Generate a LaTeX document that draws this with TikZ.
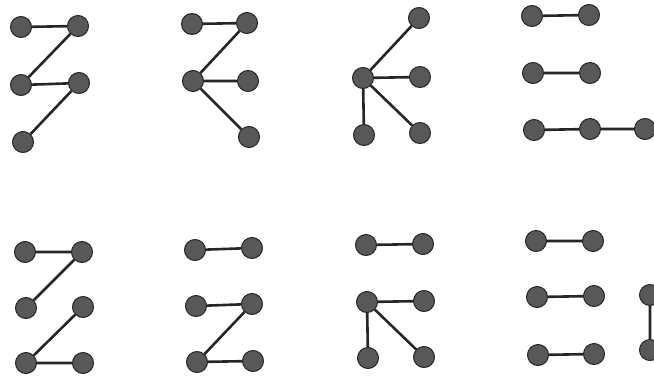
\documentclass[tikz,border=0pt]{standalone}
\usepackage{tikz}
\usetikzlibrary{positioning}

\definecolor{vfill}{HTML}{585858}
\definecolor{vline}{HTML}{262626}

\begin{document}
\begin{tikzpicture}[
x=1pt,y=-1pt,
vtx/.style={
draw=vline,
line width=1pt,
fill=vfill,
circle,
inner sep=0pt,
minimum size=21pt},
edge/.style={
draw=vline,
line width=2.6pt}
]
\useasboundingbox (0,0) rectangle (654,378);

% top row
\node[vtx] (a1) at (21,27) {};
\node[vtx] (a2) at (78,26) {};
\node[vtx] (a3) at (21,85) {};
\node[vtx] (a4) at (79,83) {};
\node[vtx] (a5) at (23,142) {};
\draw[edge] (a1)--(a2) (a2)--(a3) (a3)--(a4) (a4)--(a5);

\node[vtx] (b1) at (192,24) {};
\node[vtx] (b2) at (247,23) {};
\node[vtx] (b3) at (193,81) {};
\node[vtx] (b4) at (248,81) {};
\node[vtx] (b5) at (249,137) {};
\draw[edge] (b1)--(b2) (b2)--(b3) (b3)--(b4) (b3)--(b5);

\node[vtx] (c1) at (419,18) {};
\node[vtx] (c2) at (363,78) {};
\node[vtx] (c3) at (420,77) {};
\node[vtx] (c4) at (364,135) {};
\node[vtx] (c5) at (420,133) {};
\draw[edge] (c2)--(c1) (c2)--(c3) (c2)--(c4) (c2)--(c5);

\node[vtx] (d1) at (532,16) {};
\node[vtx] (d2) at (589,15) {};
\node[vtx] (d3) at (533,73) {};
\node[vtx] (d4) at (590,73) {};
\node[vtx] (d5) at (534,130) {};
\node[vtx] (d6) at (590,129) {};
\node[vtx] (d7) at (645,129) {};
\draw[edge] (d1)--(d2) (d3)--(d4) (d5)--(d6) (d6)--(d7);

% bottom row
\node[vtx] (e1) at (25,252) {};
\node[vtx] (e2) at (82,252) {};
\node[vtx] (e3) at (26,308) {};
\node[vtx] (e4) at (83,307) {};
\node[vtx] (e5) at (26,363) {};
\node[vtx] (e6) at (83,363) {};
\draw[edge] (e1)--(e2) (e2)--(e3) (e4)--(e5) (e5)--(e6);

\node[vtx] (f1) at (195,250) {};
\node[vtx] (f2) at (252,248) {};
\node[vtx] (f3) at (196,306) {};
\node[vtx] (f4) at (252,304) {};
\node[vtx] (f5) at (197,362) {};
\node[vtx] (f6) at (253,361) {};
\draw[edge] (f1)--(f2) (f3)--(f4) (f4)--(f5) (f5)--(f6);

\node[vtx] (g1) at (366,245) {};
\node[vtx] (g2) at (423,244) {};
\node[vtx] (g3) at (367,302) {};
\node[vtx] (g4) at (424,301) {};
\node[vtx] (g5) at (368,358) {};
\node[vtx] (g6) at (424,357) {};
\draw[edge] (g1)--(g2) (g3)--(g4) (g3)--(g5) (g3)--(g6);

\node[vtx] (h1) at (536,241) {};
\node[vtx] (h2) at (593,241) {};
\node[vtx] (h3) at (537,297) {};
\node[vtx] (h4) at (594,296) {};
\node[vtx] (h5) at (538,355) {};
\node[vtx] (h6) at (594,354) {};
\node[vtx] (h7) at (650,295) {};
\node[vtx] (h8) at (650,350) {};
\draw[edge] (h1)--(h2) (h3)--(h4) (h5)--(h6) (h7)--(h8);

\end{tikzpicture}
\end{document}
